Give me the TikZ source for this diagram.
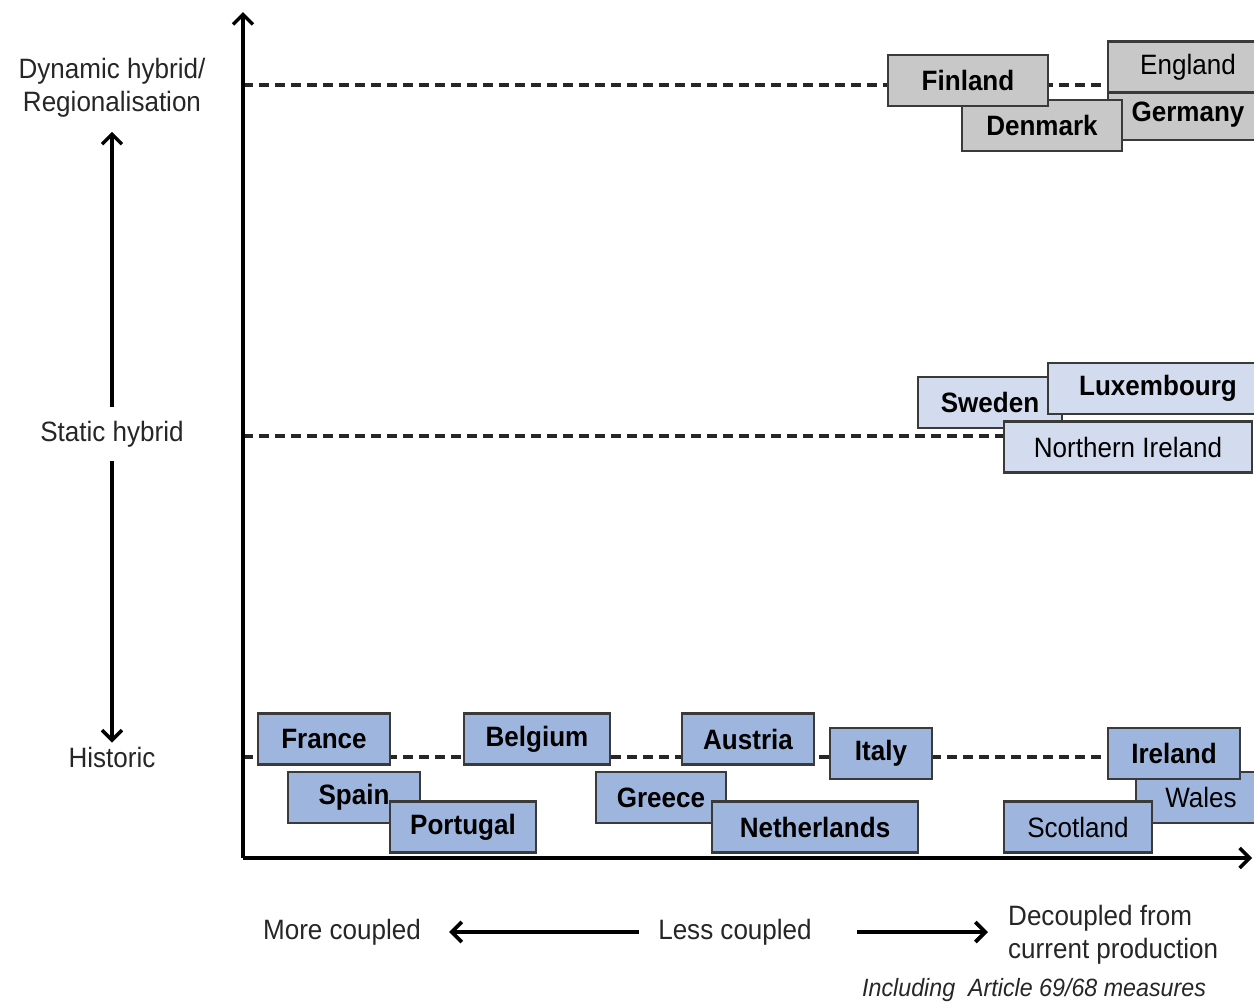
\documentclass[tikz,border=0pt]{standalone}
\usepackage{fontspec}
\setmainfont{Liberation Sans}[FakeStretch=0.93]
\usepackage{tikz}
\usetikzlibrary{arrows.meta,backgrounds}

\definecolor{boxgray}{HTML}{C8C8C8}
\definecolor{boxpale}{HTML}{D3DCEF}
\definecolor{boxblue}{HTML}{9EB6DE}
\definecolor{edge}{HTML}{3A3A3A}

\tikzset{
  cbox/.style={draw=edge, line width=2.2pt, minimum height=51pt, inner sep=0pt,
    font=\fontsize{28}{30}\selectfont},
  grbox/.style={cbox, fill=boxgray},
  plbox/.style={cbox, fill=boxpale},
  blbox/.style={cbox, fill=boxblue},
  lvl/.style={line width=3.2pt, dash pattern=on 10pt off 6pt, draw=black!85},
  lab/.style={inner sep=2pt, font=\fontsize{28}{33}\selectfont, text=black!85},
}

\begin{document}
\begin{tikzpicture}[x=1pt, y=-1pt, >={Straight Barb[length=10pt,width=20pt]}]
      \useasboundingbox (0,0) rectangle (1254,1002);
      % axes
      \coordinate (o) at (243,858);
      \coordinate (ytop) at (243,12);
      \coordinate (xend) at (1252,858);
      \coordinate (l1) at (243,85);
      \coordinate (l2) at (243,436);
      \coordinate (l3) at (243,757);
      % levels
      \node[lab, align=center] (dh) at (112,88) {Dynamic hybrid/\\Regionalisation};
      \node[lab] (sh) at (112,434) {Static hybrid};
      \node[lab] (hi) at (112,757) {Historic};
      \draw [->, line width=3.4pt, shorten <=12pt, shorten >=12pt] (sh) -- (dh);
      \draw [->, line width=3.4pt, shorten <=12pt, shorten >=2pt] (sh) -- (hi);
      % top row
      \node[grbox, minimum width=160pt, font=\fontsize{28}{30}\selectfont\bfseries] (ge) at (1188,114.5) {Germany};
      \node[grbox, minimum width=160pt] (en) at (1188,67) {England};
      \node[grbox, minimum width=160pt, font=\fontsize{28}{30}\selectfont\bfseries] (dk) at (1042,125.5) {Denmark};
      \node[grbox, minimum width=160pt, font=\fontsize{28}{30}\selectfont\bfseries] (fi) at (968,80.5) {Finland};
      % middle row
      \node[plbox, minimum width=144pt, font=\fontsize{28}{30}\selectfont\bfseries] (se) at (990,402.5) {Sweden};
      \node[plbox, minimum width=220pt, font=\fontsize{28}{30}\selectfont\bfseries] (lu) at (1158,388.5) {Luxembourg};
      \node[plbox, minimum width=248pt] (ni) at (1128,447) {Northern Ireland};
      % bottom row
      \tikzset{cbox/.append style={font=\fontsize{28}{30}\selectfont\bfseries}}
      \node[blbox, minimum width=132pt] (fr) at (324,739) {France};
      \node[blbox, minimum width=132pt] (es) at (354,797.5) {Spain};
      \node[blbox, minimum width=146pt] (pt) at (463,827) {Portugal};
      \node[blbox, minimum width=146pt] (be) at (537,739) {Belgium};
      \node[blbox, minimum width=130pt] (gr) at (661,797.5) {Greece};
      \node[blbox, minimum width=206pt] (nl) at (815,827) {Netherlands};
      \node[blbox, minimum width=132pt] (at) at (748,739) {Austria};
      \node[blbox, minimum width=102pt] (it) at (881,753.5) {Italy};
      \node[blbox, minimum width=130pt, font=\fontsize{28}{30}\selectfont] (wa) at (1201,797.5) {Wales};
      \node[blbox, minimum width=132pt] (ie) at (1174,753.5) {Ireland};
      \node[blbox, minimum width=148pt, font=\fontsize{28}{30}\selectfont] (sc) at (1078,827) {Scotland};
      % dashed levels, behind the boxes
      \begin{scope}[on background layer]
      \draw [lvl] (l1) -- (l1 -| en.west);
      \draw [lvl] (l2) -- (l2 -| ni.west);
      \draw [lvl] (l3) -- (l3 -| ie.west);
      \end{scope}
      \draw [->, line width=3.4pt] (o) -- (ytop);
      \draw [->, line width=3.4pt] (o) -- (xend);
      % bottom axis labels
      \node[lab] (mc) at (342,932) {More coupled};
      \node[lab] (lc) at (735,932) {Less coupled};
      \node[lab, align=left, anchor=west] (dc) at (1006,935) {Decoupled from\\current production};
      \node[lab, anchor=west, font=\fontsize{25}{28}\selectfont\itshape] (am) at (860,990) {Including\ \ Article 69/68 measures};
      \draw [->, line width=3.8pt, shorten <=17pt, shorten >=26pt] (lc) -- (mc);
      \draw [->, line width=3.8pt, shorten <=43pt, shorten >=18pt] (lc.east) -- (dc.west |- lc.east);
    \end{tikzpicture}
\end{document}
